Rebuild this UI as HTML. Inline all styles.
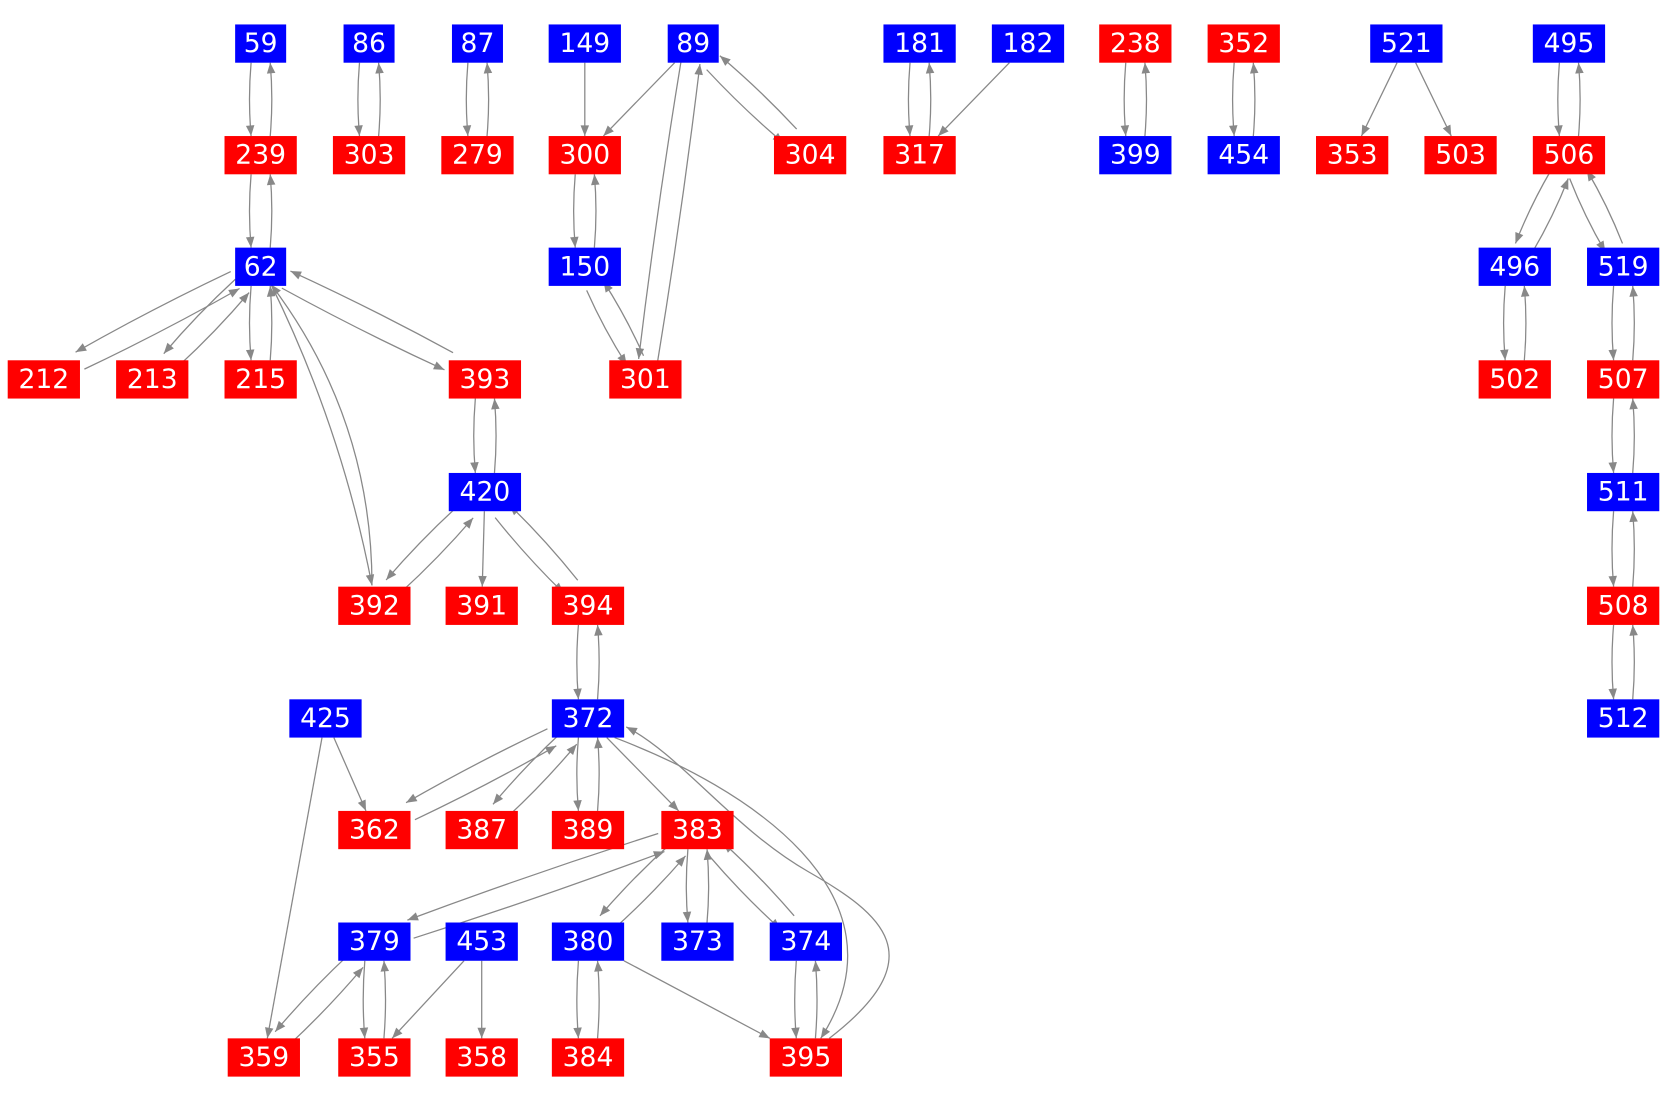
<!DOCTYPE html>
<html><head><meta charset="utf-8"><style>
html,body{margin:0;padding:0;background:#fff;}
svg{display:block}
text{font-family:"DejaVu Sans","Liberation Sans",sans-serif;font-size:25px;fill:#fff;text-anchor:middle;dominant-baseline:central}
</style></head><body>
<svg id="s" width="1667" height="1100" viewBox="0 0 1568 1035" xmlns="http://www.w3.org/2000/svg">
<defs><marker id="a" viewBox="0 0 10 10" refX="10" refY="5" markerWidth="12" markerHeight="10" markerUnits="userSpaceOnUse" orient="auto"><path d="M0,1 L10,5 L0,9 z" fill="#888"/></marker></defs>
<g id="edges" fill="none" stroke="#888" stroke-width="1.2">
<path d="M780,977 C880,900 830,860 760,820 S640,710 589,684" marker-end="url(#a)"/>
<path d="M578,694 C700,740 860,840 772,977" marker-end="url(#a)"/>
</g>
<g id="nodes">
<rect x="221" y="23" width="48" height="36" fill="#00f"/><text x="245" y="41">59</text>
<rect x="323" y="23" width="48" height="36" fill="#00f"/><text x="347" y="41">86</text>
<rect x="425" y="23" width="48" height="36" fill="#00f"/><text x="449" y="41">87</text>
<rect x="516" y="23" width="68" height="36" fill="#00f"/><text x="550" y="41">149</text>
<rect x="628" y="23" width="48" height="36" fill="#00f"/><text x="652" y="41">89</text>
<rect x="831" y="23" width="68" height="36" fill="#00f"/><text x="865" y="41">181</text>
<rect x="933" y="23" width="68" height="36" fill="#00f"/><text x="967" y="41">182</text>
<rect x="1034" y="23" width="68" height="36" fill="#f00"/><text x="1068" y="41">238</text>
<rect x="1136" y="23" width="68" height="36" fill="#f00"/><text x="1170" y="41">352</text>
<rect x="1289" y="23" width="68" height="36" fill="#00f"/><text x="1323" y="41">521</text>
<rect x="1442" y="23" width="68" height="36" fill="#00f"/><text x="1476" y="41">495</text>

<rect x="211" y="128" width="68" height="36" fill="#f00"/><text x="245" y="146">239</text>
<rect x="313" y="128" width="68" height="36" fill="#f00"/><text x="347" y="146">303</text>
<rect x="415" y="128" width="68" height="36" fill="#f00"/><text x="449" y="146">279</text>
<rect x="516" y="128" width="68" height="36" fill="#f00"/><text x="550" y="146">300</text>
<rect x="728" y="128" width="68" height="36" fill="#f00"/><text x="762" y="146">304</text>
<rect x="831" y="128" width="68" height="36" fill="#f00"/><text x="865" y="146">317</text>
<rect x="1034" y="128" width="68" height="36" fill="#00f"/><text x="1068" y="146">399</text>
<rect x="1136" y="128" width="68" height="36" fill="#00f"/><text x="1170" y="146">454</text>
<rect x="1238" y="128" width="68" height="36" fill="#f00"/><text x="1272" y="146">353</text>
<rect x="1340" y="128" width="68" height="36" fill="#f00"/><text x="1374" y="146">503</text>
<rect x="1442" y="128" width="68" height="36" fill="#f00"/><text x="1476" y="146">506</text>

<rect x="221" y="233" width="48" height="36" fill="#00f"/><text x="245" y="251">62</text>
<rect x="516" y="233" width="68" height="36" fill="#00f"/><text x="550" y="251">150</text>
<rect x="1391" y="233" width="68" height="36" fill="#00f"/><text x="1425" y="251">496</text>
<rect x="1493" y="233" width="68" height="36" fill="#00f"/><text x="1527" y="251">519</text>

<rect x="7" y="339" width="68" height="36" fill="#f00"/><text x="41" y="357">212</text>
<rect x="109" y="339" width="68" height="36" fill="#f00"/><text x="143" y="357">213</text>
<rect x="211" y="339" width="68" height="36" fill="#f00"/><text x="245" y="357">215</text>
<rect x="422" y="339" width="68" height="36" fill="#f00"/><text x="456" y="357">393</text>
<rect x="573" y="339" width="68" height="36" fill="#f00"/><text x="607" y="357">301</text>
<rect x="1391" y="339" width="68" height="36" fill="#f00"/><text x="1425" y="357">502</text>
<rect x="1493" y="339" width="68" height="36" fill="#f00"/><text x="1527" y="357">507</text>

<rect x="422" y="445" width="68" height="36" fill="#00f"/><text x="456" y="463">420</text>
<rect x="1493" y="445" width="68" height="36" fill="#00f"/><text x="1527" y="463">511</text>

<rect x="318" y="552" width="68" height="36" fill="#f00"/><text x="352" y="570">392</text>
<rect x="419" y="552" width="68" height="36" fill="#f00"/><text x="453" y="570">391</text>
<rect x="519" y="552" width="68" height="36" fill="#f00"/><text x="553" y="570">394</text>
<rect x="1493" y="552" width="68" height="36" fill="#f00"/><text x="1527" y="570">508</text>

<rect x="272" y="658" width="68" height="36" fill="#00f"/><text x="306" y="676">425</text>
<rect x="519" y="658" width="68" height="36" fill="#00f"/><text x="553" y="676">372</text>
<rect x="1493" y="658" width="68" height="36" fill="#00f"/><text x="1527" y="676">512</text>

<rect x="318" y="763" width="68" height="36" fill="#f00"/><text x="352" y="781">362</text>
<rect x="419" y="763" width="68" height="36" fill="#f00"/><text x="453" y="781">387</text>
<rect x="519" y="763" width="68" height="36" fill="#f00"/><text x="553" y="781">389</text>
<rect x="622" y="763" width="68" height="36" fill="#f00"/><text x="656" y="781">383</text>

<rect x="318" y="868" width="68" height="36" fill="#00f"/><text x="352" y="886">379</text>
<rect x="419" y="868" width="68" height="36" fill="#00f"/><text x="453" y="886">453</text>
<rect x="519" y="868" width="68" height="36" fill="#00f"/><text x="553" y="886">380</text>
<rect x="622" y="868" width="68" height="36" fill="#00f"/><text x="656" y="886">373</text>
<rect x="724" y="868" width="68" height="36" fill="#00f"/><text x="758" y="886">374</text>

<rect x="214" y="977" width="68" height="36" fill="#f00"/><text x="248" y="995">359</text>
<rect x="318" y="977" width="68" height="36" fill="#f00"/><text x="352" y="995">355</text>
<rect x="419" y="977" width="68" height="36" fill="#f00"/><text x="453" y="995">358</text>
<rect x="519" y="977" width="68" height="36" fill="#f00"/><text x="553" y="995">384</text>
<rect x="724" y="977" width="68" height="36" fill="#f00"/><text x="758" y="995">395</text>
</g>
</svg>
<script>
var N={};
document.querySelectorAll('#nodes rect').forEach(function(r){var t=r.nextElementSibling;var x=+r.getAttribute('x'),y=+r.getAttribute('y'),w=+r.getAttribute('width'),h=+r.getAttribute('height');N[t.textContent]={x:x+w/2,y:y+h/2,hw:w/2,hh:h/2};});
function clipFrom(n,cx,cy,dx,dy){var s=Math.min(n.hw/Math.abs(dx||1e-9),n.hh/Math.abs(dy||1e-9));return [cx+dx*s,cy+dy*s];}
var g=document.getElementById('edges');
function edge(a,b,off,sh){var A=N[a],B=N[b];var dx=B.x-A.x,dy=B.y-A.y,L=Math.hypot(dx,dy);var px=-dy/L,py=dx/L;
sh=sh||0;
var ax=A.x+px*sh,ay=A.y+py*sh,bx=B.x+px*sh,by=B.y+py*sh;
var p=clipFrom(A,ax,ay,dx,dy),q=clipFrom(B,bx,by,-dx,-dy);
var mx=(p[0]+q[0])/2+px*off,my=(p[1]+q[1])/2+py*off;
var e=document.createElementNS('http://www.w3.org/2000/svg','path');
e.setAttribute('d','M'+p[0]+','+p[1]+' Q'+mx+','+my+' '+q[0]+','+q[1]);e.setAttribute('marker-end','url(#a)');g.appendChild(e);}
function pair(a,b){edge(a,b,3,9);edge(b,a,3,9);}
[['59','239'],['86','303'],['87','279'],['239','62'],['300','150'],['89','301'],['150','301'],['89','304'],['181','317'],['238','399'],['352','454'],['495','506'],['506','496'],['506','519'],['496','502'],['519','507'],['507','511'],['511','508'],['508','512'],['62','212'],['62','213'],['62','215'],['62','393'],['393','420'],['420','392'],['420','394'],['394','372'],['372','362'],['372','387'],['372','389'],['383','379'],['383','380'],['383','373'],['383','374'],['379','359'],['379','355'],['380','384'],['374','395']].forEach(function(p){pair(p[0],p[1]);});
edge('62','392',-20,-4);edge('392','62',50,4);
[['149','300'],['89','300'],['182','317'],['521','353'],['521','503'],['420','391'],['372','383'],['425','362'],['425','359'],['453','355'],['453','358'],['380','395']].forEach(function(p){edge(p[0],p[1],0,0);});
</script>
</body></html>
